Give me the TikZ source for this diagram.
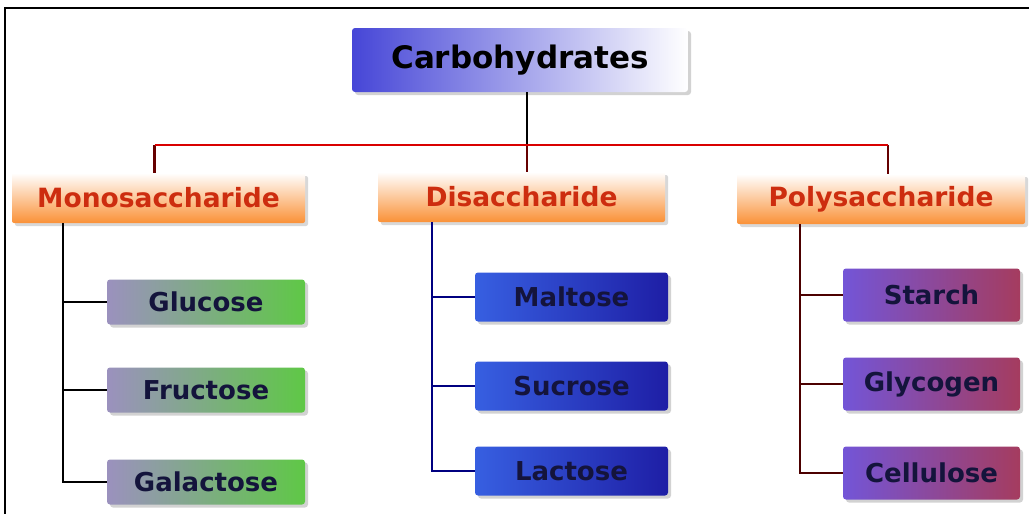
\documentclass[tikz,border=0pt]{standalone}
\usepackage{fontspec}
\setmainfont{DejaVu Sans}
\usetikzlibrary{shadows}

\definecolor{carbblue}{RGB}{70,70,215}
\definecolor{headorange}{RGB}{250,145,55}
\definecolor{headtext}{RGB}{205,45,15}
\definecolor{monoleft}{RGB}{155,145,190}
\definecolor{monoright}{RGB}{95,200,70}
\definecolor{dileft}{RGB}{55,95,225}
\definecolor{diright}{RGB}{30,30,165}
\definecolor{polyleft}{RGB}{115,85,215}
\definecolor{polyright}{RGB}{165,60,95}
\definecolor{sugartext}{RGB}{20,20,60}

\tikzstyle{rootbox} = [rectangle, rounded corners=3pt, minimum width=336pt, minimum height=64pt, inner sep=0pt, left color=carbblue, middle color=carbblue!70!white, right color=white, drop shadow={shadow xshift=3pt, shadow yshift=-3pt, fill=gray!70}, font=\bfseries\fontsize{31}{32}\selectfont, text=black]
\tikzstyle{headbox} = [rectangle, rounded corners=2pt, minimum height=50pt, inner sep=0pt, top color=white, middle color=headorange!85!white, bottom color=headorange, drop shadow={shadow xshift=3pt, shadow yshift=-3pt, fill=gray!60}, font=\bfseries\fontsize{26.5}{27}\selectfont, text=headtext]
\tikzstyle{sugarbox} = [rectangle, rounded corners=3pt, inner sep=0pt, drop shadow={shadow xshift=3pt, shadow yshift=-3pt, fill=gray!70}, font=\bfseries\fontsize{26}{27}\selectfont, text=sugartext]
\tikzstyle{monobox} = [sugarbox, minimum width=198pt, minimum height=45pt, left color=monoleft, right color=monoright]
\tikzstyle{dibox} = [sugarbox, minimum width=193pt, minimum height=49pt, left color=dileft, right color=diright]
\tikzstyle{polybox} = [sugarbox, minimum width=177pt, minimum height=53pt, left color=polyleft, right color=polyright]
\tikzstyle{trunk} = [line width=2.2pt, black]
\tikzstyle{bus} = [line width=2.2pt, red!85!black]
\tikzstyle{drop} = [line width=2.2pt, red!40!black]
\tikzstyle{monoline} = [line width=2.2pt, black]
\tikzstyle{diline} = [line width=2.2pt, blue!50!black]
\tikzstyle{polyline} = [line width=2.2pt, red!30!black]

\begin{document}
\begin{tikzpicture}[x=1pt, y=-1pt]
\useasboundingbox (0,0) rectangle (1029,514);
\clip (0,0) rectangle (1029,514);
\draw [line width=1.8pt] (5,540) -- (5,8) -- (1050,8);

% top and second level
\node (carb) [rootbox] at (520,60) {Carbohydrates};
\node (mono) [headbox, minimum width=293pt] at (158.5,198) {Monosaccharide};
\node (di) [headbox, minimum width=287pt] at (521.5,197) {Disaccharide};
\node (poly) [headbox, minimum width=288pt] at (881,199) {Polysaccharide};

% leaves
\node (glucose) [monobox] at (206,302) {Glucose};
\node (fructose) [monobox] at (206,390) {Fructose};
\node (galactose) [monobox] at (206,482) {Galactose};
\node (maltose) [dibox] at (571.5,297) {Maltose};
\node (sucrose) [dibox] at (571.5,386) {Sucrose};
\node (lactose) [dibox] at (571.5,471) {Lactose};
\node (starch) [polybox] at (931.5,295) {Starch};
\node (glycogen) [polybox] at (931.5,384) {Glycogen};
\node (cellulose) [polybox] at (931.5,473) {Cellulose};

\coordinate (split) at (527,145);
\draw [trunk] (carb.south -| split) -- (split);
\draw [drop] ([xshift=-4pt]mono.north) -- ([xshift=-4pt]mono.north |- split);
\draw [drop] (di.north -| split) -- (split);
\draw [drop] ([xshift=7pt]poly.north) -- ([xshift=7pt]poly.north |- split);
\draw [bus] ([xshift=-4pt]mono.north |- split) -- ([xshift=7pt]poly.north |- split);

\foreach \leaf in {glucose,fructose,galactose}
  \draw [monoline] ([xshift=51pt]mono.south west) |- (\leaf.west);
\foreach \leaf in {maltose,sucrose,lactose}
  \draw [diline] ([xshift=54pt]di.south west) |- (\leaf.west);
\foreach \leaf in {starch,glycogen,cellulose}
  \draw [polyline] ([xshift=63pt]poly.south west) |- (\leaf.west);
\end{tikzpicture}
\end{document}
